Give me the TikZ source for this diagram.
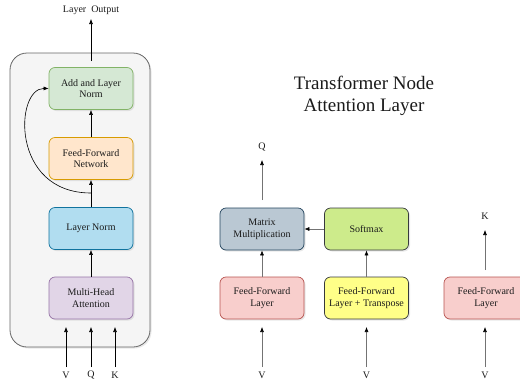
\documentclass[tikz,border=0pt]{standalone}
\usepackage{fontspec}
\setmainfont{Liberation Serif}
\usetikzlibrary{arrows.meta,shadows}
\definecolor{cgreenF}{HTML}{D5E8D4}\definecolor{cgreenS}{HTML}{82B366}
\definecolor{corangeF}{HTML}{FFE6CC}\definecolor{corangeS}{HTML}{D79B00}
\definecolor{cblueF}{HTML}{B1DDF0}\definecolor{cblueS}{HTML}{10739E}
\definecolor{cpurpleF}{HTML}{E1D5E7}\definecolor{cpurpleS}{HTML}{9673A6}
\definecolor{cgrayF}{HTML}{BAC8D3}\definecolor{cgrayS}{HTML}{23445D}
\definecolor{climeF}{HTML}{CDEB8B}\definecolor{cdarkS}{HTML}{36393D}
\definecolor{credF}{HTML}{F8CECC}\definecolor{credS}{HTML}{B85450}
\definecolor{cyellowF}{HTML}{FFFF88}
\definecolor{ccontF}{HTML}{F5F5F5}\definecolor{ccontS}{HTML}{666666}
\definecolor{ctext}{HTML}{1A1A1A}
\begin{document}
\begin{tikzpicture}[x=1pt,y=-1pt,
  box/.style={rectangle, rounded corners=6pt, minimum width=84pt, minimum height=42pt,
    align=center, font=\rmfamily\fontsize{10}{11.5}\selectfont, text=ctext, line width=0.7pt,
    drop shadow={shadow xshift=1.5pt, shadow yshift=-1.5pt, opacity=0.18}},
  lbl/.style={font=\rmfamily\fontsize{10}{12}\selectfont, text=ctext, inner sep=0pt},
  arr/.style={-{Latex[length=5pt,width=4pt,color=black]}, line width=0.6pt},
  garr/.style={arr, draw=black!55}
]
\useasboundingbox (0,0) rectangle (520,381);
\clip (0,0) rectangle (520,381);
% container
\node[draw=ccontS, fill=ccontF, rounded corners=17pt, line width=0.8pt,
  minimum width=140pt, minimum height=294pt, inner sep=0pt,
  drop shadow={shadow xshift=1.5pt, shadow yshift=-1.5pt, opacity=0.18}] (cont) at (80,200) {};
% left boxes
\node[box, draw=cgreenS, fill=cgreenF] (addnorm) at (91,88.5) {Add and Layer\\Norm};
\node[box, draw=corangeS, fill=corangeF] (ffn) at (91,158.5) {Feed-Forward\\Network};
\node[box, draw=cblueS, fill=cblueF] (ln) at (91,228.5) {Layer Norm};
\node[box, draw=cpurpleS, fill=cpurpleF] (mha) at (91,298) {Multi-Head\\Attention};
% left labels
\node[lbl] (out) at (91,10) {Layer\ \ Output};
\node[lbl] (lv) at (66,375) {V};
\node[lbl] (lq) at (91,375) {Q};
\node[lbl] (lk) at (115,375) {K};
\coordinate (outs) at (91,61);
\coordinate (outt) at (91,19);
\coordinate (lvs) at (66,367); \coordinate (lvt) at (66,327);
\coordinate (lqs) at (91,367); \coordinate (lqt) at (91,327);
\coordinate (lks) at (115,367); \coordinate (lkt) at (115,327);
\coordinate (split) at (91,193);
% left arrows
\draw[arr] (outs) -- (outt);
\draw[arr] (lvs) -- (lvt);
\draw[arr] (lqs) -- (lqt);
\draw[arr] (lks) -- (lkt);
\draw[arr] (mha) -- (ln);
\draw[arr] (ln) -- (ffn);
\draw[arr] (ffn) -- (addnorm);
\draw[arr] (split) .. controls (10,193) and (15,88) .. (addnorm.west);
% title
\node[font=\rmfamily\fontsize{19}{22}\selectfont, text=ctext, align=center] (title) at (364,96) {Transformer Node\\Attention Layer};
% right boxes
\node[box, draw=cgrayS, fill=cgrayF] (mm) at (262,229) {Matrix\\Multiplication};
\node[box, draw=cdarkS, fill=climeF] (sm) at (366.5,229) {Softmax};
\node[box, draw=credS, fill=credF] (ff1) at (262,298) {Feed-Forward\\Layer};
\node[box, draw=cdarkS, fill=cyellowF] (fft) at (366.5,298) {Feed-Forward\\Layer + Transpose};
\node[box, draw=credS, fill=credF] (ff3) at (486,298) {Feed-Forward\\Layer};
% right labels
\node[lbl] (rq) at (262,147) {Q};
\node[lbl] (rk) at (485,216) {K};
\node[lbl] (rv1) at (262,375) {V};
\node[lbl] (rv2) at (366.5,375) {V};
\node[lbl] (rv3) at (485,375) {V};
\coordinate (rqs) at (262,200); \coordinate (rqt) at (262,160);
\coordinate (rks) at (485,270); \coordinate (rkt) at (485,230);
\coordinate (rv1s) at (262,367); \coordinate (rv1t) at (262,327);
\coordinate (rv2s) at (366.5,367); \coordinate (rv2t) at (366.5,327);
\coordinate (rv3s) at (485,367); \coordinate (rv3t) at (485,327);
% right arrows
\draw[garr] (rqs) -- (rqt);
\draw[garr] (rks) -- (rkt);
\draw[garr] (rv1s) -- (rv1t);
\draw[garr] (rv2s) -- (rv2t);
\draw[garr] (rv3s) -- (rv3t);
\draw[garr] (ff1) -- (mm);
\draw[garr] (fft) -- (sm);
\draw[garr] (sm) -- (mm);
\end{tikzpicture}
\end{document}
